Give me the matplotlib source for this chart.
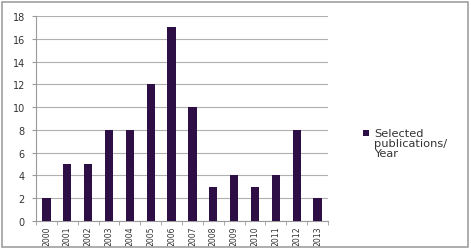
"""
Bar chart of selected publications per year.
"""

import matplotlib.pyplot as plt
import numpy as np
from matplotlib.container import BarContainer
from matplotlib.legend_handler import HandlerPatch, update_from_first_child
from matplotlib.patches import Rectangle


YEARS = ["2000", "2001", "2002", "2003", "2004", "2005", "2006",
         "2007", "2008", "2009", "2010", "2011", "2012", "2013"]
PUBLICATIONS = [2, 5, 5, 8, 8, 12, 17, 10, 3, 4, 3, 4, 8, 2]
Y_TICKS = [0, 2, 4, 6, 8, 10, 12, 14, 16, 18]
SERIES_LABEL = "Selected\npublications/\nYear"

BAR_COLOR = "#2e0f45"
GRID_COLOR = "#b0b0b0"
AXIS_COLOR = "#9a9a9a"
TEXT_COLOR = "#333333"
LEGEND_SIZE = 8.2

plt.rcParams["font.family"] = ["DejaVu Sans"]


def top_line_square(legend, orig_handle, xdescent, ydescent, width, height, fontsize):
    """Legend key placed beside the first line of a multi-line label."""
    return Rectangle((-xdescent, -ydescent + 0.85 * fontsize), width, height)


figure = plt.figure(figsize=(4.71, 2.51), dpi=100)
axis = figure.add_axes([36 / 471, 1 - 222 / 251, 292 / 471, 205 / 251])

x_values = np.arange(len(YEARS))
axis.bar(x_values, PUBLICATIONS, width=0.4, color=BAR_COLOR,
         label=SERIES_LABEL, zorder=3)

axis.set_xlim(-0.5, len(YEARS) - 0.5)
axis.set_ylim(0, 18)
axis.set_yticks(Y_TICKS)
axis.tick_params(axis="y", labelsize=7, length=3, color=AXIS_COLOR,
                 labelcolor=TEXT_COLOR, pad=5)

# category labels at centers, tick marks between categories
axis.set_xticks(x_values)
axis.set_xticklabels(YEARS, rotation=90, fontsize=5.6, color=TEXT_COLOR)
axis.tick_params(axis="x", which="major", length=0, pad=3)
axis.set_xticks(np.arange(-0.5, len(YEARS)), minor=True)
axis.tick_params(axis="x", which="minor", length=3, color=AXIS_COLOR)

axis.grid(axis="y", color=GRID_COLOR, linewidth=0.8, zorder=0)
for side in ("top", "right"):
    axis.spines[side].set_visible(False)
for side in ("left", "bottom"):
    axis.spines[side].set_color(AXIS_COLOR)
    axis.spines[side].set_linewidth(0.8)

bar_handler = HandlerPatch(patch_func=top_line_square,
                           update_func=update_from_first_child)
legend = axis.legend(loc="upper left", bbox_to_anchor=(1.12, 0.455),
                     frameon=False, fontsize=LEGEND_SIZE, handlelength=0.5,
                     handleheight=0.5, handletextpad=0.5,
                     borderpad=0, borderaxespad=0,
                     handler_map={BarContainer: bar_handler})
for text in legend.get_texts():
    text.set_linespacing(1.0)
    text.set_color(TEXT_COLOR)

# grey frame round the whole picture
figure.patches.append(Rectangle((2 / 471, 3 / 251), 466 / 471, 245 / 251,
                                transform=figure.transFigure, fill=False,
                                edgecolor="#a0a0a0", linewidth=1.2))

figure.savefig("out.png", dpi=100)
plt.close(figure)
